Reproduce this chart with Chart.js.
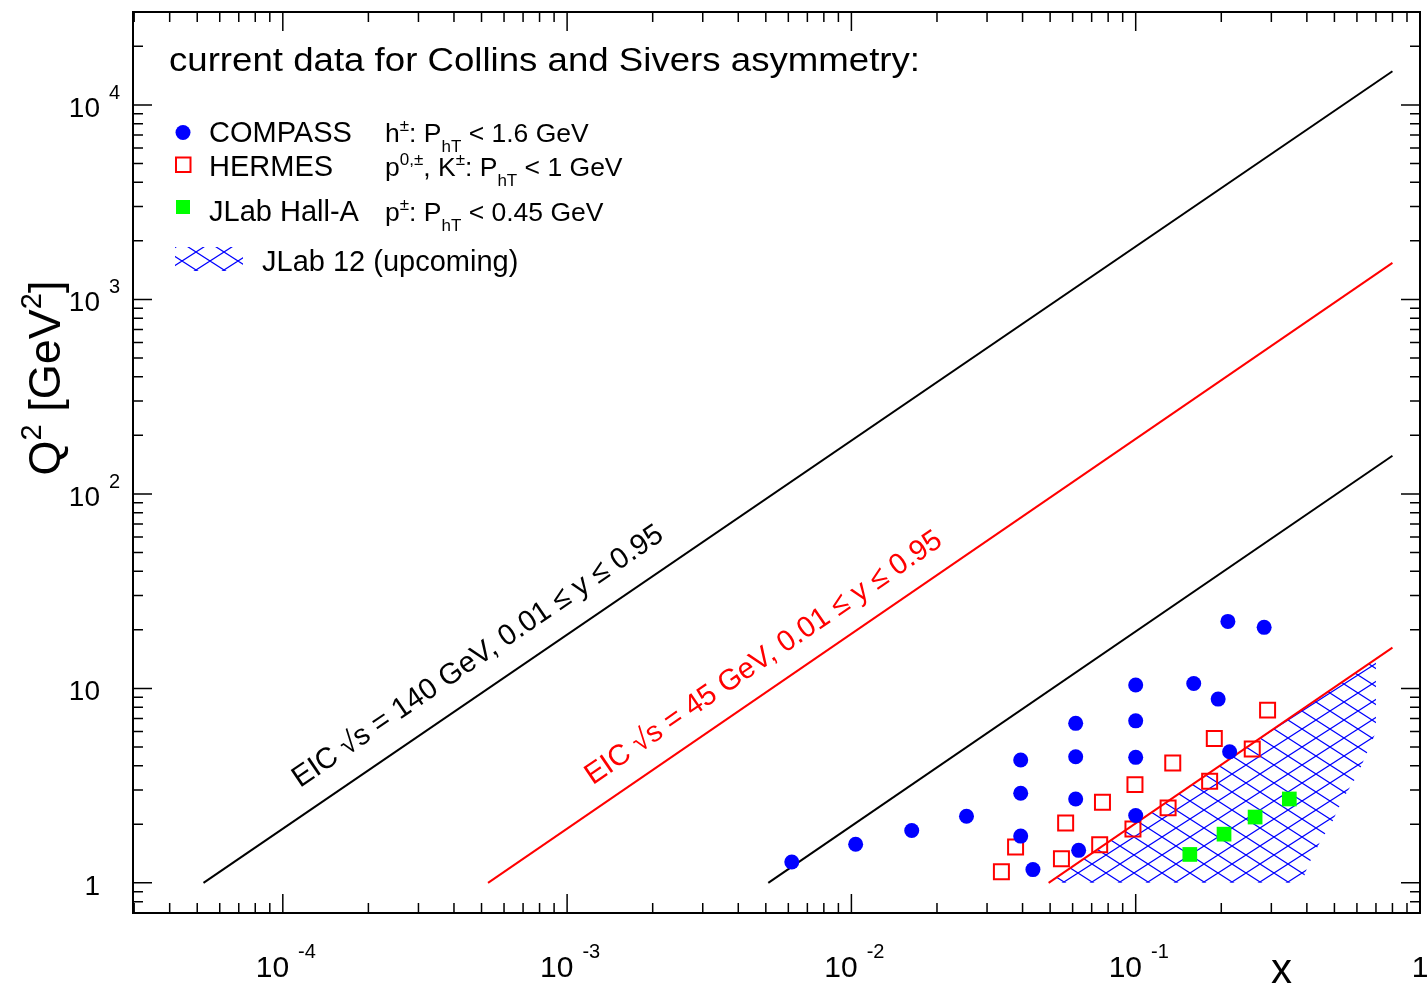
<!DOCTYPE html>
<html lang="en">
<head>
<meta charset="UTF-8">
<title>Collins and Sivers asymmetry coverage</title>
<script src="https://cdn.jsdelivr.net/npm/chart.js"></script>
<style>
  body { margin: 0; background: #fff; }
  #wrap { width: 1427px; height: 987px; }
</style>
</head>
<body>
<div id="wrap"><canvas id="chart" width="1427" height="987"></canvas></div>
<script>
const FONT = '"Liberation Sans", Arial, Helvetica, sans-serif';

const compassX  = [0.00617, 0.01035, 0.0163, 0.0254, 0.0394, 0.0394, 0.0394, 0.0435, 0.0615, 0.0615, 0.0615, 0.0630, 0.100, 0.100, 0.100, 0.100, 0.160, 0.195, 0.214, 0.211, 0.283];
const compassQ2 = [1.28, 1.58, 1.86, 2.20, 1.74, 2.89, 4.28, 1.17, 2.70, 4.45, 6.61, 1.47, 2.22, 4.42, 6.81, 10.4, 10.6, 8.81, 4.72, 22.1, 20.6];

const hermesX  = [0.0337, 0.0378, 0.0548, 0.0567, 0.0747, 0.0764, 0.0978, 0.0994, 0.130, 0.135, 0.182, 0.189, 0.257, 0.291];
const hermesQ2 = [1.14, 1.53, 1.33, 2.03, 1.57, 2.60, 1.89, 3.20, 2.43, 4.13, 3.33, 5.53, 4.88, 7.73];

const jlabX  = [0.155, 0.2045, 0.263, 0.347];
const jlabQ2 = [1.40, 1.78, 2.18, 2.70];

// EIC kinematic limits (end points of each line)
const eic140HighX = [5.26e-5, 0.8], eic140HighQ2 = [1, 14900];
const eic140LowX  = [5.1e-3, 0.8],  eic140LowQ2  = [1, 157];
const eic45HighX  = [5.27e-4, 0.8], eic45HighQ2  = [1, 1540];
const eic45LowX   = [0.0494, 0.8],  eic45LowQ2   = [1, 16.2];

// JLab 12 GeV region outline
const jlab12X  = [0.0494, 0.70, 0.70, 0.655, 0.60, 0.535, 0.493, 0.445, 0.403, 0.384];
const jlab12Q2 = [1.0, 14.2, 5.96, 4.76, 3.54, 2.70, 2.08, 1.62, 1.22, 1.0];

// axis decades and their labels (base, exponent)
const xDecades = [1e-4, 1e-3, 1e-2, 1e-1, 1];
const xTickLabels = [['10', '-4'], ['10', '-3'], ['10', '-2'], ['10', '-1'], ['1', '']];
const yDecades = [1, 10, 100, 1000, 10000];
const yTickLabels = [['1', ''], ['10', ''], ['10', '2'], ['10', '3'], ['10', '4']];
const minorSteps = [2, 3, 4, 5, 6, 7, 8, 9];

const pts = (xs, ys) => xs.map((v, i) => ({x: v, y: ys[i]}));

function makeHatch() {
  const w = 28, h = 18;
  const c = document.createElement('canvas');
  c.width = w; c.height = h;
  const g = c.getContext('2d');
  g.strokeStyle = '#0000ff';
  g.lineWidth = 1.2;
  g.beginPath();
  for (let k = -1; k <= 1; k++) {
    g.moveTo(k * w, h); g.lineTo(k * w + w, 0);
    g.moveTo(k * w, 0); g.lineTo(k * w + w, h);
  }
  g.stroke();
  return g.createPattern(c, 'repeat');
}
const hatch = makeHatch();

// text with super/subscripts: parts = [[text, mode]] with mode 1 sup, -1 sub
function drawRich(ctx, parts, x, y, size, sub) {
  let cx = x;
  for (const [txt, mode] of parts) {
    const s = mode ? (sub || size * 0.65) : size;
    ctx.font = s + 'px ' + FONT;
    const dy = mode === 1 ? -size * 0.42 : mode === -1 ? size * 0.38 : 0;
    ctx.fillText(txt, cx, y + dy);
    cx += ctx.measureText(txt).width;
  }
  return cx - x;
}
function richWidth(ctx, parts, size, sub) {
  let w = 0;
  for (const [txt, mode] of parts) {
    ctx.font = (mode ? (sub || size * 0.65) : size) + 'px ' + FONT;
    w += ctx.measureText(txt).width;
  }
  return w;
}
// plain text stretched sideways to a given width (ROOT text runs wide)
function wideText(ctx, txt, x, y, size, width) {
  ctx.font = size + 'px ' + FONT;
  const k = width / ctx.measureText(txt).width;
  ctx.save();
  ctx.translate(x, y);
  ctx.scale(k, 1);
  ctx.fillText(txt, 0, 0);
  ctx.restore();
}

function logTicks(min, max) {
  const out = [];
  for (let e = Math.floor(Math.log10(min)); e <= Math.ceil(Math.log10(max)); e++) {
    const d = Math.pow(10, e);
    if (d >= min && d <= max) out.push({v: d, major: true});
    minorSteps.forEach(m => { if (m * d >= min && m * d <= max) out.push({v: m * d, major: false}); });
  }
  return out;
}

const rootDecor = {
  id: 'rootDecor',
  afterDraw(chart) {
    const {ctx, chartArea: a} = chart;
    const sx = chart.scales.x, sy = chart.scales.y;
    ctx.save();

    // frame + inward ticks on all four sides
    ctx.strokeStyle = '#000';
    ctx.lineWidth = 2;
    ctx.strokeRect(a.left, a.top, a.right - a.left, a.bottom - a.top);
    ctx.lineWidth = 1.5;
    ctx.beginPath();
    logTicks(sx.min, sx.max).forEach(t => {
      const p = sx.getPixelForValue(t.v), len = t.major ? 19 : 10;
      ctx.moveTo(p, a.bottom); ctx.lineTo(p, a.bottom - len);
      ctx.moveTo(p, a.top); ctx.lineTo(p, a.top + len);
    });
    logTicks(sy.min, sy.max).forEach(t => {
      const p = sy.getPixelForValue(t.v), len = t.major ? 19 : 10;
      ctx.moveTo(a.left, p); ctx.lineTo(a.left + len, p);
      ctx.moveTo(a.right, p); ctx.lineTo(a.right - len, p);
    });
    ctx.stroke();

    ctx.fillStyle = '#000';
    ctx.textBaseline = 'alphabetic';
    ctx.textAlign = 'left';

    // x tick labels
    xDecades.forEach((v, i) => {
      const [b, e] = xTickLabels[i];
      ctx.font = '30px ' + FONT;
      const wb = ctx.measureText(b).width;
      ctx.font = '20px ' + FONT;
      const we = e ? ctx.measureText(e).width + 9 : 0;
      const p = sx.getPixelForValue(v);
      const left = e ? p + 3 - (wb + we) / 2 : p - wb / 2;
      ctx.font = '30px ' + FONT;
      ctx.fillText(b, left, 977);
      if (e) { ctx.font = '20px ' + FONT; ctx.fillText(e, left + wb + 9, 958); }
    });

    // y tick labels
    yDecades.forEach((v, i) => {
      const [b, e] = yTickLabels[i];
      const p = sy.getPixelForValue(v);
      ctx.font = '28px ' + FONT;
      ctx.textAlign = 'right';
      ctx.fillText(b, 100, p + 12);
      ctx.textAlign = 'left';
      if (e) { ctx.font = '20px ' + FONT; ctx.fillText(e, 109, p - 6); }
    });

    // axis titles
    ctx.font = '42px ' + FONT;
    ctx.fillText('x', 1271, 983);
    ctx.save();
    const yTitle = [['Q', 0], ['2', 1], [' [GeV', 0], ['2', 1], [']', 0]];
    const tw = richWidth(ctx, yTitle, 45, 29);
    ctx.translate(60, 378);
    ctx.rotate(-Math.PI / 2);
    drawRich(ctx, yTitle, -tw / 2, 0, 45, 29);
    ctx.restore();

    // heading + legend
    wideText(ctx, 'current data for Collins and Sivers asymmetry:', 169, 71, 34, 751);

    ctx.fillStyle = '#0000ff';
    ctx.beginPath(); ctx.arc(183, 132.5, 7.5, 0, Math.PI * 2); ctx.fill();
    ctx.strokeStyle = '#ff0000'; ctx.lineWidth = 2;
    ctx.strokeRect(176, 157.5, 14.5, 14.5);
    ctx.fillStyle = '#00ff00';
    ctx.fillRect(176, 200, 14, 14);
    ctx.fillStyle = hatch;
    ctx.fillRect(175, 247, 68, 24);

    ctx.fillStyle = '#000';
    ctx.font = '29px ' + FONT;
    ctx.fillText('COMPASS', 209, 142);
    ctx.fillText('HERMES', 209, 176);
    ctx.fillText('JLab Hall-A', 209, 221);
    ctx.fillText('JLab 12 (upcoming)', 262, 271);

    drawRich(ctx, [['h', 0], ['±', 1], [': P', 0], ['hT', -1], [' < 1.6 GeV', 0]], 385, 142, 26.5, 17);
    drawRich(ctx, [['p', 0], ['0,±', 1], [', K', 0], ['±', 1], [': P', 0], ['hT', -1], [' < 1 GeV', 0]], 385, 176, 26.5, 17);
    drawRich(ctx, [['p', 0], ['±', 1], [': P', 0], ['hT', -1], [' < 0.45 GeV', 0]], 385, 221, 26.5, 17);

    // labels along the EIC lines
    const eicLabels = [
      {text: 'EIC \u221As = 140 GeV, 0.01 \u2264 y \u2264 0.95', color: '#000000', xs: eic140HighX, qs: eic140HighQ2, at: 1.15e-4, lift: 29},
      {text: 'EIC \u221As = 45 GeV, 0.01 \u2264 y \u2264 0.95', color: '#ff0000', xs: eic45HighX, qs: eic45HighQ2, at: 1.23e-3, lift: 26}
    ];
    eicLabels.forEach(l => {
      const x0 = sx.getPixelForValue(l.xs[0]), y0 = sy.getPixelForValue(l.qs[0]);
      const x1 = sx.getPixelForValue(l.xs[1]), y1 = sy.getPixelForValue(l.qs[1]);
      const ang = Math.atan2(y1 - y0, x1 - x0);
      const px = sx.getPixelForValue(l.at);
      const py = y0 + (px - x0) * (y1 - y0) / (x1 - x0);
      ctx.save();
      ctx.translate(px, py - l.lift);
      ctx.rotate(ang);
      ctx.fillStyle = l.color;
      ctx.font = '29.2px ' + FONT;
      ctx.fillText(l.text, 0, 0);
      ctx.restore();
    });

    ctx.restore();
  }
};

const lineSet = (xs, ys, color) => ({
  data: pts(xs, ys), showLine: true, borderColor: color, borderWidth: 2,
  pointRadius: 0, fill: false
});

new Chart(document.getElementById('chart'), {
  type: 'scatter',
  data: {
    datasets: [
      {label: 'COMPASS', data: pts(compassX, compassQ2), pointStyle: 'circle', pointRadius: 7.5,
       backgroundColor: '#0000ff', borderColor: '#0000ff', borderWidth: 0},
      {label: 'HERMES', data: pts(hermesX, hermesQ2), pointStyle: 'rect', pointRadius: 10.6,
       backgroundColor: 'rgba(0,0,0,0)', borderColor: '#ff0000', borderWidth: 2},
      {label: 'JLab Hall-A', data: pts(jlabX, jlabQ2), pointStyle: 'rect', pointRadius: 10.4,
       backgroundColor: '#00ff00', borderColor: '#00ff00', borderWidth: 0},
      lineSet(eic140HighX, eic140HighQ2, '#000000'),
      lineSet(eic140LowX, eic140LowQ2, '#000000'),
      lineSet(eic45HighX, eic45HighQ2, '#ff0000'),
      lineSet(eic45LowX, eic45LowQ2, '#ff0000'),
      {label: 'JLab 12 (upcoming)', data: pts(jlab12X, jlab12Q2), showLine: true, fill: 'shape',
       backgroundColor: hatch, borderColor: 'rgba(0,0,0,0)', borderWidth: 1, pointRadius: 0}
    ]
  },
  options: {
    responsive: false,
    animation: false,
    events: [],
    layout: {autoPadding: false, padding: {left: 133, top: 12, right: 7, bottom: 74}},
    plugins: {legend: {display: false}, tooltip: {enabled: false}},
    scales: {
      x: {type: 'logarithmic', display: false, min: 2.972e-5, max: 1},
      y: {type: 'logarithmic', display: false, min: 0.7099, max: 30035}
    }
  },
  plugins: [rootDecor]
});
</script>
</body>
</html>
